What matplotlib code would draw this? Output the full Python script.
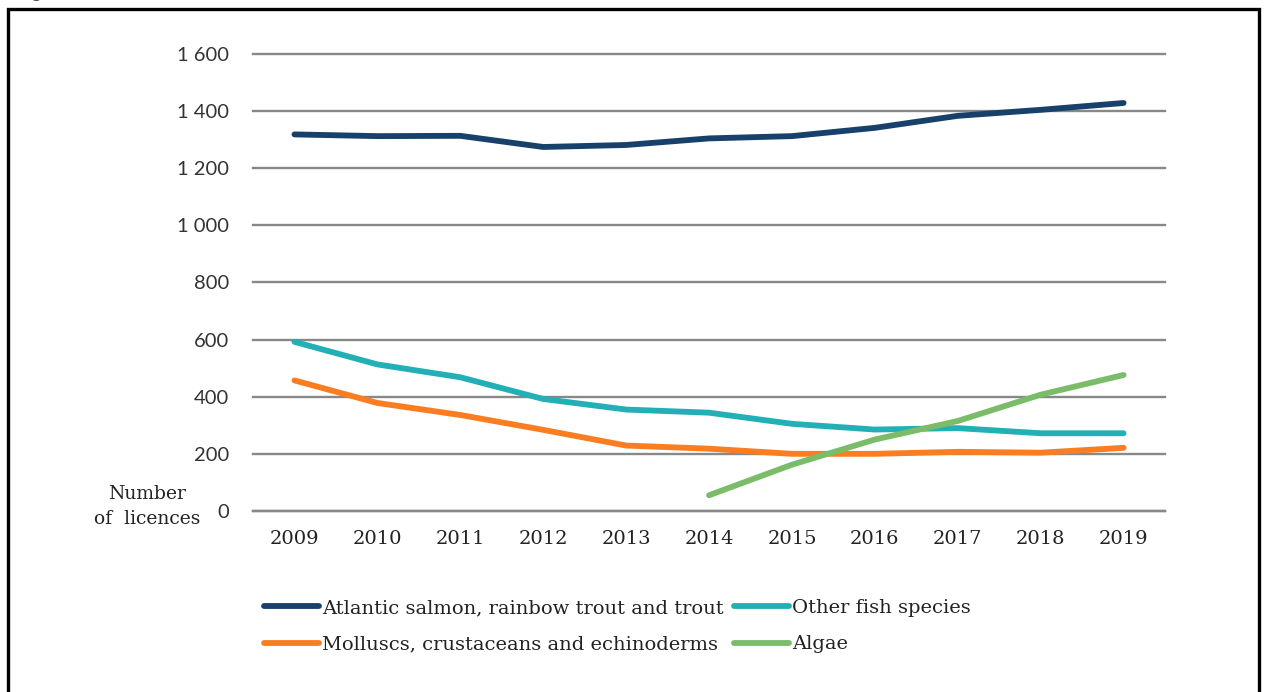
import matplotlib
matplotlib.use("Agg")
from matplotlib import pyplot as plt
from matplotlib.patches import Rectangle

# data
years = ["2009", "2010", "2011", "2012", "2013", "2014", "2015", "2016", "2017", "2018", "2019"]
salmon = [1318, 1312, 1313, 1274, 1281, 1304, 1312, 1341, 1383, 1404, 1428]
other_fish = [592, 513, 468, 392, 355, 344, 305, 285, 290, 272, 272]
molluscs = [457, 378, 336, 284, 229, 218, 200, 200, 207, 204, 221]
algae_years = ["2014", "2015", "2016", "2017", "2018", "2019"]
algae = [55, 162, 250, 315, 407, 476]

yticks = [0, 200, 400, 600, 800, 1000, 1200, 1400, 1600]
ytick_labels = ["0", "200", "400", "600", "800", "1 000", "1 200", "1 400", "1 600"]

serif = "DejaVu Serif"
sans = "Lato"

fig = plt.figure(figsize=(12.65, 6.92), dpi=100)
ax = fig.add_axes([0.2, 0.2616, 0.721, 0.6606])

x = list(range(len(years)))
x_algae = [years.index(y) for y in algae_years]

lw = 4.2
ax.plot(x, salmon, color="#17416B", lw=lw, solid_capstyle="round", solid_joinstyle="round",
        label="Atlantic salmon, rainbow trout and trout", zorder=5)
ax.plot(x, molluscs, color="#FA7D22", lw=lw, solid_capstyle="round", solid_joinstyle="round",
        label="Molluscs, crustaceans and echinoderms", zorder=4)
ax.plot(x, other_fish, color="#22B0B6", lw=lw, solid_capstyle="round", solid_joinstyle="round",
        label="Other fish species", zorder=5)
ax.plot(x_algae, algae, color="#7BBC68", lw=lw, solid_capstyle="round", solid_joinstyle="round",
        label="Algae", zorder=6)

ax.set_xlim(-0.5, len(years) - 0.5)
ax.set_ylim(0, 1600)
ax.set_yticks(yticks)
ax.set_yticklabels(ytick_labels, fontfamily=sans, fontsize=14.5, color="#333333")
ax.set_xticks(x)
ax.set_xticklabels(years, fontfamily=serif, fontsize=14, color="#222222")
ax.tick_params(axis="y", length=0, pad=17)
ax.tick_params(axis="x", length=0, pad=14)

for s in ["top", "right", "left"]:
    ax.spines[s].set_visible(False)
ax.spines["bottom"].set_color("#888888")
ax.spines["bottom"].set_linewidth(1.7)
ax.yaxis.grid(True, color="#888888", lw=1.7)
ax.set_axisbelow(True)
for gl in ax.get_ygridlines():
    gl.set_clip_on(False)

fig.text(0.116, 0.268, "Number\nof  licences", ha="center", va="center",
         fontfamily=serif, fontsize=13.5, color="#222222", linespacing=1.45)

# legend order: salmon, other fish / molluscs, algae
h, l = ax.get_legend_handles_labels()
leg = fig.legend(h, l, ncol=2,
                 loc="center", bbox_to_anchor=(0.488, 0.095), frameon=False,
                 prop={"family": serif, "size": 14}, handlelength=2.85,
                 handletextpad=0.15, columnspacing=0.5, labelspacing=0.95)
for t in leg.get_texts():
    t.set_color("#222222")

# cut-off caption above the frame
fig.text(0.01, 1.004, "Figure 4. Number of licences 2009\u20132019", ha="left", va="baseline",
         fontfamily=serif, fontsize=13, color="#444444")

# black frame round the figure
fig.patches.append(Rectangle((0.0063, -0.05), 0.9889, 1.0369, transform=fig.transFigure,
                             fill=False, edgecolor="black", lw=2.4))

fig.savefig("out.png", dpi=100)
